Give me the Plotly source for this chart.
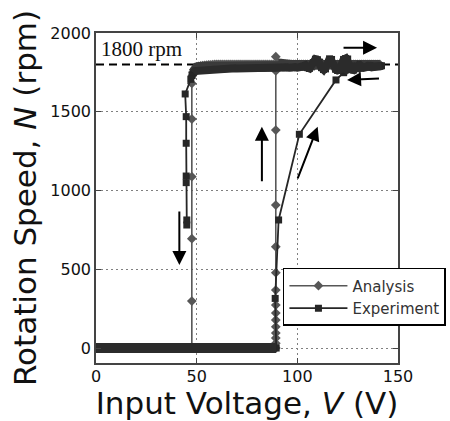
import plotly.graph_objects as go

# ---------------- data ----------------
# Analysis, increasing voltage: zero plateau, jump at ~89.3 V, plateau near 1800 rpm
analysis_up_v = [0, 1, 2, 3, 4, 5, 6, 7, 8, 9, 10, 11, 12, 13, 14, 15, 16, 17, 18, 19,
                 20, 21, 22, 23, 24, 25, 26, 27, 28, 29, 30, 31, 32, 33, 34, 35, 36, 37, 38, 39,
                 40, 41, 42, 43, 44, 45, 46, 47, 48, 49, 50, 51, 52, 53, 54, 55, 56, 57, 58, 59,
                 60, 61, 62, 63, 64, 65, 66, 67, 68, 69, 70, 71, 72, 73, 74, 75, 76, 77, 78, 79,
                 80, 81, 82, 83, 84, 85, 86, 87, 88, 89.3,
                 89.3, 89.3, 89.3, 89.3, 89.3, 89.3, 89.3, 89.3, 89.3, 89.3, 89.3, 89.3, 89.3, 89.3,
                 90.5, 92, 93, 94, 95, 96, 97, 98, 99, 100, 101, 102, 103, 104, 105, 106, 107, 108,
                 109, 110, 111, 112, 113, 114, 115, 116, 117, 118, 119, 120, 121, 122, 123, 124,
                 125, 126, 127, 128, 129, 130, 131, 132, 133, 134, 135, 136, 137, 138, 139, 140, 141]
analysis_up_n = [0, 0, 0, 0, 0, 0, 0, 0, 0, 0, 0, 0, 0, 0, 0, 0, 0, 0, 0, 0,
                 0, 0, 0, 0, 0, 0, 0, 0, 0, 0, 0, 0, 0, 0, 0, 0, 0, 0, 0, 0,
                 0, 0, 0, 0, 0, 0, 0, 0, 0, 0, 0, 0, 0, 0, 0, 0, 0, 0, 0, 0,
                 0, 0, 0, 0, 0, 0, 0, 0, 0, 0, 0, 0, 0, 0, 0, 0, 0, 0, 0, 0,
                 0, 0, 0, 0, 0, 0, 0, 0, 0, 0,
                 30, 63, 95, 135, 178, 222, 273, 368, 478, 643, 908, 1384, 1759, 1850,
                 1810, 1805, 1802, 1800, 1800, 1800, 1800, 1800, 1800, 1800, 1800, 1800, 1800,
                 1800, 1800, 1800, 1800, 1800, 1800, 1800, 1800, 1800, 1800, 1800, 1800, 1800,
                 1800, 1800, 1800, 1800, 1800, 1800, 1800, 1800, 1800, 1800, 1800, 1800, 1800,
                 1800, 1800, 1800, 1800, 1800, 1800, 1800, 1800, 1800, 1800, 1800, 1800]
# Analysis, decreasing voltage: plateau back down to ~48 V, then the drop at 47.6 V
analysis_dn_v = [89, 88, 87, 86, 85, 84, 83, 82, 81, 80, 79, 78, 77, 76, 75, 74, 73, 72, 71,
                 70, 69, 68, 67, 66, 65, 64, 63, 62, 61, 60, 59, 58, 57, 56, 55, 54, 53, 52,
                 51, 50, 49.3, 48.7, 48.2, 47.9,
                 47.6, 47.6, 47.6, 47.6, 47.6, 47.6]
analysis_dn_n = [1800, 1800, 1800, 1800, 1800, 1800, 1800, 1800, 1800, 1800, 1800, 1800, 1800,
                 1800, 1800, 1800, 1800, 1800, 1800, 1800, 1800, 1800, 1800, 1800, 1800, 1800,
                 1800, 1800, 1800, 1800, 1800, 1799, 1798, 1797, 1796, 1795, 1793, 1791,
                 1788, 1785, 1778, 1768, 1752, 1730,
                 1680, 1454, 1088, 694, 298, 0]

# Experiment, increasing voltage
experiment_up_v = [0, 1, 2, 3, 4, 5, 6, 7, 8, 9, 10, 11, 12, 13, 14, 15, 16, 17, 18, 19,
                   20, 21, 22, 23, 24, 25, 26, 27, 28, 29, 30, 31, 32, 33, 34, 35, 36, 37, 38, 39,
                   40, 41, 42, 43, 44, 45, 46, 47, 48, 49, 50, 51, 52, 53, 54, 55, 56, 57, 58, 59,
                   60, 61, 62, 63, 64, 65, 66, 67, 68, 69, 70, 71, 72, 73, 74, 75, 76, 77, 78, 79,
                   80, 81, 82, 83, 84, 85, 86, 87, 88, 89.5,
                   89.0, 90.7, 101, 119.2, 123, 124, 125, 126, 127, 128, 129, 130, 131, 132, 133,
                   134, 135, 136, 137, 138, 139, 140, 141, 141.8]
experiment_up_n = [0, 0, 0, 0, 0, 0, 0, 0, 0, 0, 0, 0, 0, 0, 0, 0, 0, 0, 0, 0,
                   0, 0, 0, 0, 0, 0, 0, 0, 0, 0, 0, 0, 0, 0, 0, 0, 0, 0, 0, 0,
                   0, 0, 0, 0, 0, 0, 0, 0, 0, 0, 0, 0, 0, 0, 0, 0, 0, 0, 0, 0,
                   0, 0, 0, 0, 0, 0, 0, 0, 0, 0, 0, 0, 0, 0, 0, 0, 0, 0, 0, 0,
                   0, 0, 0, 0, 0, 0, 0, 0, 0, 0,
                   315, 813, 1357, 1702, 1748, 1765, 1790, 1770, 1800, 1780, 1790, 1785, 1795,
                   1780, 1790, 1785, 1792, 1786, 1790, 1788, 1792, 1790, 1792, 1792]
# Experiment, decreasing voltage
experiment_dn_v = [141, 140, 139, 138, 137, 136, 135, 134, 133, 132, 131, 130, 129, 128, 127,
                   126, 125, 124, 123, 122, 121, 120, 119, 118, 117, 116, 115, 114, 113, 112,
                   111, 110, 109, 108, 107, 106, 105, 104, 103, 102, 101, 100, 99, 98, 97, 96,
                   95, 94, 93, 92, 91, 90, 89, 88, 87, 86, 85, 84, 83, 82, 81, 80, 79, 78, 77,
                   76, 75, 74, 73, 72, 71, 70, 69, 68, 67, 66, 65, 64, 63, 62, 61, 60, 59, 58,
                   57, 56, 55, 54, 53, 52, 51, 50, 49, 48.3, 47.7,
                   47.1, 44.3, 44.8, 44.8, 44.8, 44.8, 45.1, 45.1]
experiment_dn_n = [1788, 1785, 1790, 1786, 1782, 1790, 1785, 1792, 1780, 1788, 1778, 1790,
                   1775, 1765, 1768, 1800, 1835, 1838, 1832, 1790, 1766, 1762, 1770, 1800,
                   1832, 1836, 1805, 1772, 1768, 1780, 1815, 1830, 1834, 1812, 1785, 1775,
                   1780, 1795, 1790, 1782, 1786, 1780, 1784, 1780, 1782, 1780, 1782, 1780,
                   1781, 1780, 1781, 1780, 1780, 1780, 1779, 1780, 1779, 1779, 1778, 1779,
                   1778, 1778, 1778, 1777, 1778, 1777, 1777, 1776, 1777, 1776, 1776, 1775,
                   1776, 1775, 1775, 1774, 1775, 1774, 1773, 1774, 1773, 1772, 1772, 1771,
                   1770, 1770, 1769, 1768, 1767, 1766, 1765, 1762, 1758, 1748, 1730,
                   1706, 1613, 1469, 1300, 1092, 1050, 813, 781]

x_ticks = [0, 50, 100, 150]
y_ticks = [0, 500, 1000, 1500, 2000]
rated_speed = 1800

analysis_v = analysis_up_v + analysis_dn_v
analysis_n = analysis_up_n + analysis_dn_n
experiment_v = experiment_up_v + experiment_dn_v
experiment_n = experiment_up_n + experiment_dn_n


def plateau(v, n, lo, hi):
    """Keep only the densely sampled steady-state runs (others become gaps)."""
    xs, ys = [], []
    for a, b in zip(v, n):
        if lo <= b <= hi:
            xs.append(a)
            ys.append(b)
        else:
            xs.append(None)
            ys.append(None)
    return xs, ys


fig = go.Figure()
fig.add_trace(go.Scatter(
    x=analysis_v, y=analysis_n, name="Analysis", mode="lines+markers",
    line=dict(color="#575757", width=1.6),
    marker=dict(symbol="diamond", size=7.5, color="#575757"),
))
fig.add_trace(go.Scatter(
    x=experiment_v, y=experiment_n, name="Experiment", mode="lines+markers",
    line=dict(color="#262626", width=1.8),
    marker=dict(symbol="square", size=7, color="#262626"),
))

# the dense steady-state samples merge into thick bands
for (v, n, col, w_top, w_zero) in [
        (analysis_v, analysis_n, "#3a3a3a", 9, 10),
        (experiment_v, experiment_n, "#2b2b2b", 8, 10)]:
    for lo, hi, w in [(1740, 1845, w_top), (-1, 1, w_zero)]:
        bx, by = plateau(v, n, lo, hi)
        fig.add_trace(go.Scatter(x=bx, y=by, mode="lines", showlegend=False,
                                 hoverinfo="skip", connectgaps=False,
                                 line=dict(color=col, width=w)))

# dashed rated-speed line
fig.add_shape(type="line", xref="paper", x0=0, x1=1, yref="y", y0=rated_speed, y1=rated_speed,
              line=dict(color="black", width=2, dash="8px,5px"), layer="below")

fig.add_annotation(x=1.5, y=1898, xref="x", yref="y", text="1800 rpm", showarrow=False,
                   xanchor="left", yanchor="middle",
                   font=dict(family="Liberation Serif", size=21, color="#111111"))

# direction arrows (tail -> head)
arrows = [
    ((122.2, 1907), (139.6, 1907)),
    ((141.3, 1712), (124.7, 1702)),
    ((82.4, 1050), (82.4, 1405)),
    ((99.9, 1067), (110.1, 1405)),
    ((41.4, 876), (41.4, 527)),
]
for (tx, ty), (hx, hy) in arrows:
    fig.add_annotation(x=hx, y=hy, ax=tx, ay=ty, xref="x", yref="y", axref="x", ayref="y",
                       text="", showarrow=True, arrowhead=2, arrowsize=1.4, arrowwidth=2,
                       arrowcolor="black")

axis_common = dict(
    showline=True, linecolor="#444444", linewidth=1.5, mirror="ticks",
    ticks="inside", ticklen=5, tickcolor="#444444", tickwidth=1,
    showgrid=True, gridcolor="#808080", gridwidth=1.2, griddash="2px,3px",
    zeroline=False,
    tickfont=dict(family="DejaVu Sans", size=16, color="#111111"),
)
fig.update_xaxes(range=[0, 150], tickvals=x_ticks, ticktext=[str(t) for t in x_ticks],
                 ticklabelstandoff=-2,
                 title=dict(text="Input Voltage, <i>V</i> (V)",
                            font=dict(family="DejaVu Sans", size=31, color="#111111"),
                            standoff=8),
                 **axis_common)
fig.update_yaxes(range=[-95, 2000], tickvals=y_ticks, ticktext=[str(t) for t in y_ticks],
                 title=dict(text="Rotation Speed, <i>N</i> (rpm)",
                            font=dict(family="DejaVu Sans", size=31, color="#111111"),
                            standoff=4),
                 **axis_common)

fig.update_layout(
    width=450, height=421,
    margin=dict(l=96, r=52, t=33, b=58, pad=0, autoexpand=False),
    paper_bgcolor="white", plot_bgcolor="white",
    showlegend=True,
    legend=dict(x=0.619, y=0.288, xanchor="left", yanchor="top",
                bgcolor="white", bordercolor="black", borderwidth=1.5,
                font=dict(family="DejaVu Sans", size=15, color="#333333"),
                itemwidth=58, tracegroupgap=0),
)

fig.write_html("out.html")
